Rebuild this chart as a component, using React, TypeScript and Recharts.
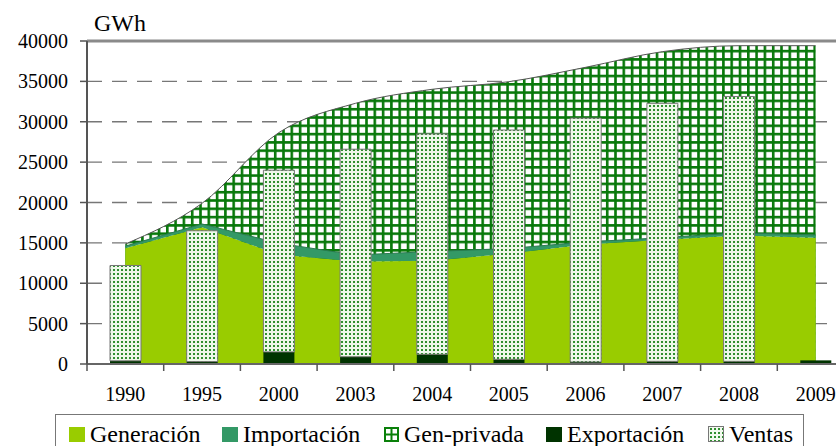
import {
  ComposedChart,
  Area,
  Bar,
  XAxis,
  YAxis,
  CartesianGrid,
  ReferenceLine,
} from 'recharts';

const YEARS = ['1990', '1995', '2000', '2003', '2004', '2005', '2006', '2007', '2008', '2009'];
const GENERACION = [14330, 16930, 13560, 12690, 12790, 13680, 14800, 15380, 15910, 15640];
const IMPORTACION = [270, 410, 1400, 810, 1140, 620, 310, 260, 340, 340];
const GEN_PRIVADA = [260, 2560, 13690, 18780, 20090, 20660, 21630, 23040, 23170, 23440];
const EXPORTACION = [400, 300, 1500, 900, 1200, 580, 250, 330, 330, 450];
const VENTAS: (number | null)[] = [11800, 16200, 22500, 25700, 27300, 28400, 30200, 31950, 32800, null];
const Y_TICKS = [0, 5000, 10000, 15000, 20000, 25000, 30000, 35000, 40000];

const FONT = "'Liberation Serif', Tinos, 'Times New Roman', Times, 'Noto Serif', FreeSerif, 'DejaVu Serif', serif";

const chartData = YEARS.map((year, i) => ({
  year,
  generacion: GENERACION[i],
  importacion: IMPORTACION[i],
  // hatched area is drawn as the full stack height behind the other two
  total: GENERACION[i] + IMPORTACION[i] + GEN_PRIVADA[i],
  exportacion: EXPORTACION[i],
  ventas: VENTAS[i],
}));

const XTick = (props: any) => {
  const { x, y, payload } = props;
  const half = payload && payload.offset ? payload.offset : 38.35;
  return (
    <g>
      <line x1={x - half} x2={x - half} y1={y} y2={y + 7} stroke="#555" strokeWidth={1.5} />
      <text x={x} y={y + 37} textAnchor="middle" style={{ fontFamily: FONT, fontSize: 20 }} fill="#000">
        {payload.value}
      </text>
    </g>
  );
};

const dotsBg = 'radial-gradient(circle, #2f8f2f 0 1px, transparent 1.3px) 0 0/4px 4px, #f2faee';

const LEGEND = [
  { label: 'Generación', x: 68, icon: <span style={{ display: 'block', width: 16, height: 15, background: '#99cc00' }} /> },
  { label: 'Importación', x: 221, icon: <span style={{ display: 'block', width: 16, height: 15, background: '#339966' }} /> },
  {
    label: 'Gen-privada',
    x: 383,
    icon: (
      <svg width={15} height={15} style={{ display: 'block' }}>
        <rect x={1} y={1} width={13} height={13} fill="#fff" stroke="#0a800a" strokeWidth={2} />
        <line x1={7.5} x2={7.5} y1={1} y2={14} stroke="#0a800a" strokeWidth={2} />
        <line x1={1} x2={14} y1={7.5} y2={7.5} stroke="#0a800a" strokeWidth={2} />
      </svg>
    ),
  },
  { label: 'Exportación', x: 545, icon: <span style={{ display: 'block', width: 16, height: 15, background: '#003300' }} /> },
  {
    label: 'Ventas',
    x: 707,
    icon: <span style={{ display: 'block', width: 14, height: 14, background: dotsBg, border: '1px solid #777' }} />,
  },
];

export default function App() {
  return (
    <div
      style={{
        position: 'absolute',
        left: 0,
        top: 0,
        width: 836,
        height: 446,
        overflow: 'hidden',
        background: '#fff',
        fontFamily: FONT,
      }}
    >
      <div style={{ position: 'absolute', left: 94, top: 11, fontSize: 24, lineHeight: '24px', color: '#000' }}>GWh</div>
      <ComposedChart
        width={860}
        height={446}
        data={chartData}
        margin={{ top: 41, right: 6, bottom: 32, left: 0 }}
        barGap={0}
      >
        <defs>
          <pattern id="hatch" width={8.3} height={8.3} patternUnits="userSpaceOnUse">
            <rect width={8.3} height={8.3} fill="#ffffff" />
            <rect x={0} y={0} width={2.6} height={8.3} fill="#08780a" />
            <rect x={0} y={0} width={8.3} height={2.6} fill="#08780a" />
          </pattern>
          <pattern id="dots" width={4} height={4} patternUnits="userSpaceOnUse">
            <rect width={4} height={4} fill="#eef8ea" />
            <rect x={1} y={1} width={2} height={2} fill="#2f8f2f" />
          </pattern>
        </defs>
        <CartesianGrid vertical={false} stroke="#777" strokeWidth={1.3} strokeDasharray="15 10" />
        <XAxis
          dataKey="year"
          height={50}
          interval={0}
          tickLine={false}
          tickSize={0}
          tickMargin={0}
          tick={<XTick />}
          axisLine={{ stroke: '#666', strokeWidth: 2 }}
        />
        <YAxis
          width={87}
          domain={[0, 40000]}
          ticks={Y_TICKS}
          interval={0}
          tickSize={7}
          tickMargin={12}
          tick={{ fontSize: 20, fill: '#000', style: { fontFamily: FONT } }}
          tickLine={{ stroke: '#555', strokeWidth: 1.5 }}
          axisLine={{ stroke: '#555', strokeWidth: 2 }}
        />
        <ReferenceLine y={40000} stroke="#8a8a8a" strokeWidth={3} />
        <Area
          dataKey="total"
          type="monotone"
          fill="url(#hatch)"
          fillOpacity={1}
          stroke="#555"
          strokeWidth={1}
          isAnimationActive={false}
        />
        <Area
          dataKey="generacion"
          stackId="a"
          type="linear"
          fill="#99cc00"
          fillOpacity={1}
          stroke="none"
          isAnimationActive={false}
        />
        <Area
          dataKey="importacion"
          stackId="a"
          type="linear"
          fill="#339966"
          fillOpacity={1}
          stroke="#2a7a50"
          strokeWidth={1}
          isAnimationActive={false}
        />
        <Bar dataKey="exportacion" stackId="b" barSize={31} fill="#003300" isAnimationActive={false} />
        <Bar
          dataKey="ventas"
          stackId="b"
          barSize={31}
          fill="url(#dots)"
          stroke="#777"
          strokeWidth={1}
          isAnimationActive={false}
        />
      </ComposedChart>
      <div
        style={{
          position: 'absolute',
          left: 55,
          top: 414,
          width: 747,
          height: 40,
          borderTop: '1.5px solid #777',
          borderLeft: '1.5px solid #777',
          borderRight: '1.5px solid #777',
        }}
      >
        {LEGEND.map((item) => (
          <div
            key={item.label}
            style={{
              position: 'absolute',
              left: item.x - 55,
              top: 8,
              height: 22,
              display: 'flex',
              alignItems: 'center',
              gap: 5,
              fontSize: 24,
              lineHeight: '20px',
              color: '#000',
              whiteSpace: 'nowrap',
            }}
          >
            {item.icon}
            <span style={{ display: 'block', lineHeight: '20px' }}>{item.label}</span>
          </div>
        ))}
      </div>
    </div>
  );
}
